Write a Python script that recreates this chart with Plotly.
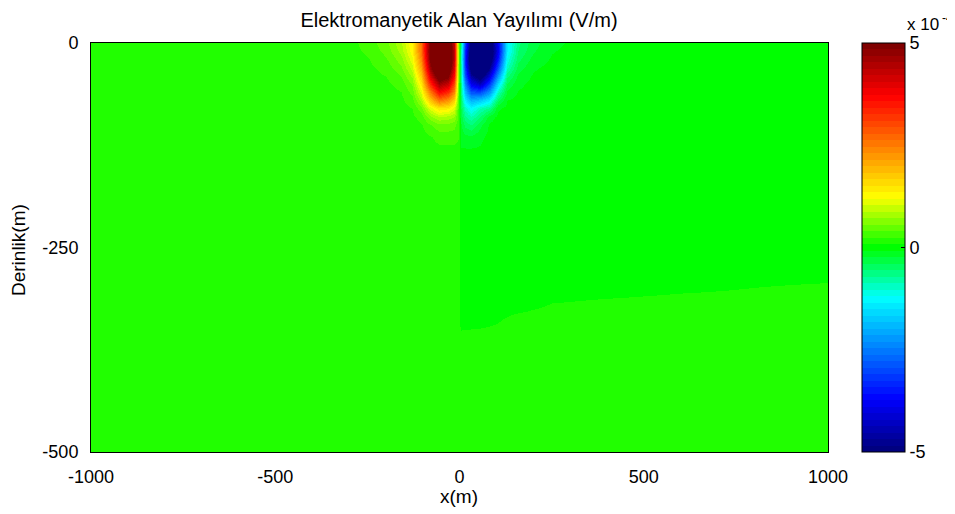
import plotly.graph_objects as go

# ---------------- data (field values in units of 1e-4 V/m) ----------------
X_M = [-1000, -600, -400, -300, -250, -200, -160, -130, -105, -80, -55, -30, -15, -3,
       3, 15, 30, 55, 80, 105, 130, 160, 200, 250, 300, 400, 600, 1000]

DEPTH_M = [0, -10, -20, -30, -40, -50, -60, -70, -80, -90, -100, -115, -130, -160,
           -200, -280, -300, -320, -340, -360, -400, -500]

FIELD_E4 = [
    [0.15, 0.15, 0.15, 0.18, 0.30, 0.50, 0.85, 1.35, 2.6, 5.0, 6.0, 5.5, 4.2, 0.8, -0.8, -3.0, -5.3, -6.5, -5.5, -3.7, -1.4, -0.6, -0.3, -0.12, -0.06, -0.02, 0, 0],
    [0.15, 0.15, 0.15, 0.17, 0.27, 0.45, 0.78, 1.30, 2.6, 5.1, 6.3, 5.8, 4.3, 0.9, -0.9, -3.3, -5.6, -6.8, -5.7, -3.8, -1.35, -0.55, -0.26, -0.09, -0.04, 0, 0, 0],
    [0.15, 0.15, 0.15, 0.16, 0.22, 0.38, 0.65, 1.15, 2.4, 5.0, 6.4, 5.9, 4.3, 0.9, -0.9, -3.4, -5.7, -6.8, -5.5, -3.5, -1.15, -0.45, -0.18, -0.06, -0.02, 0, 0, 0],
    [0.15, 0.15, 0.15, 0.15, 0.19, 0.30, 0.52, 0.95, 2.1, 4.6, 6.1, 5.6, 4.0, 0.85, -0.85, -3.2, -5.3, -6.2, -4.9, -2.9, -0.9, -0.32, -0.10, -0.03, 0, 0, 0, 0],
    [0.15, 0.15, 0.15, 0.15, 0.17, 0.24, 0.40, 0.75, 1.75, 4.0, 5.4, 5.0, 3.6, 0.8, -0.8, -2.9, -4.6, -5.3, -4.1, -2.2, -0.6, -0.2, -0.06, -0.01, 0, 0, 0, 0],
    [0.15, 0.15, 0.15, 0.15, 0.16, 0.20, 0.30, 0.58, 1.4, 3.3, 4.6, 4.2, 3.0, 0.7, -0.7, -2.4, -3.8, -4.3, -3.2, -1.5, -0.37, -0.12, -0.03, 0, 0, 0, 0, 0],
    [0.15, 0.15, 0.15, 0.15, 0.15, 0.18, 0.235, 0.45, 1.1, 2.5, 3.7, 3.3, 2.4, 0.6, -0.6, -1.9, -2.9, -3.0, -2.3, -0.9, -0.2, -0.07, -0.01, 0, 0, 0, 0, 0],
    [0.15, 0.15, 0.15, 0.15, 0.15, 0.16, 0.20, 0.34, 0.8, 1.8, 2.6, 2.3, 1.7, 0.5, -0.5, -1.4, -2.0, -1.8, -1.4, -0.45, -0.08, -0.04, 0, 0, 0, 0, 0, 0],
    [0.15, 0.15, 0.15, 0.15, 0.15, 0.15, 0.18, 0.24, 0.5, 1.1, 1.5, 1.4, 1.1, 0.4, -0.4, -0.95, -1.3, -0.9, -0.7, -0.1, -0.04, -0.02, 0, 0, 0, 0, 0, 0],
    [0.15, 0.15, 0.15, 0.15, 0.15, 0.15, 0.16, 0.20, 0.3, 0.65, 0.85, 0.8, 0.7, 0.35, -0.3, -0.65, -0.85, -0.55, -0.15, -0.04, -0.02, -0.01, 0, 0, 0, 0, 0, 0],
    [0.15, 0.15, 0.15, 0.15, 0.15, 0.15, 0.15, 0.17, 0.22, 0.38, 0.5, 0.5, 0.45, 0.3, -0.22, -0.45, -0.55, -0.28, -0.06, -0.02, -0.01, 0, 0, 0, 0, 0, 0, 0],
    [0.15, 0.15, 0.15, 0.15, 0.15, 0.15, 0.15, 0.15, 0.17, 0.22, 0.3, 0.3, 0.3, 0.25, -0.15, -0.18, -0.2, -0.12, -0.03, -0.01, 0, 0, 0, 0, 0, 0, 0, 0],
    [0.15, 0.15, 0.15, 0.15, 0.15, 0.15, 0.15, 0.15, 0.15, 0.17, 0.2, 0.2, 0.2, 0.2, -0.07, -0.07, -0.07, -0.06, -0.01, 0, 0, 0, 0, 0, 0, 0, 0, 0],
    [0.15, 0.15, 0.15, 0.15, 0.15, 0.15, 0.15, 0.15, 0.15, 0.15, 0.15, 0.15, 0.15, 0.15, -0.03, -0.03, -0.03, -0.03, 0, 0, 0, 0, 0, 0, 0, 0, 0, 0],
    [0.15, 0.15, 0.15, 0.15, 0.15, 0.15, 0.15, 0.15, 0.15, 0.15, 0.15, 0.15, 0.15, 0.15, 0, 0, 0, -0.01, 0, 0, 0, 0, 0, 0, 0, 0, 0, 0],
    [0.15, 0.15, 0.15, 0.15, 0.15, 0.15, 0.15, 0.15, 0.15, 0.15, 0.15, 0.15, 0.15, 0.15, 0, 0, 0, 0, 0, 0, 0, 0, 0, 0, 0, 0, 0, 0],
    [0.15, 0.15, 0.15, 0.15, 0.15, 0.15, 0.15, 0.15, 0.15, 0.15, 0.15, 0.15, 0.15, 0.15, 0, 0, 0, 0, 0, 0, 0, 0, 0, 0, 0, 0, 0.045, 0.12],
    [0.15, 0.15, 0.15, 0.15, 0.15, 0.15, 0.15, 0.15, 0.15, 0.15, 0.15, 0.15, 0.15, 0.15, 0, 0, 0, 0, 0, 0, 0, 0, 0.05, 0.09, 0.10, 0.13, 0.16, 0.15],
    [0.15, 0.15, 0.15, 0.15, 0.15, 0.15, 0.15, 0.15, 0.15, 0.15, 0.15, 0.15, 0.15, 0.15, 0, 0, 0, 0.015, 0.04, 0.07, 0.11, 0.16, 0.16, 0.15, 0.15, 0.15, 0.15, 0.15],
    [0.15, 0.15, 0.15, 0.15, 0.15, 0.15, 0.15, 0.15, 0.15, 0.15, 0.15, 0.15, 0.15, 0.15, 0.14, 0.15, 0.16, 0.16, 0.16, 0.16, 0.15, 0.15, 0.15, 0.15, 0.15, 0.15, 0.15, 0.15],
    [0.15, 0.15, 0.15, 0.15, 0.15, 0.15, 0.15, 0.15, 0.15, 0.15, 0.15, 0.15, 0.15, 0.15, 0.15, 0.15, 0.15, 0.15, 0.15, 0.15, 0.15, 0.15, 0.15, 0.15, 0.15, 0.15, 0.15, 0.15],
    [0.15, 0.15, 0.15, 0.15, 0.15, 0.15, 0.15, 0.15, 0.15, 0.15, 0.15, 0.15, 0.15, 0.15, 0.15, 0.15, 0.15, 0.15, 0.15, 0.15, 0.15, 0.15, 0.15, 0.15, 0.15, 0.15, 0.15, 0.15],
]

X_TICKS = [-1000, -500, 0, 500, 1000]
Y_TICKS = [0, -250, -500]
CB_TICKS = [-5, 0, 5]
CB_TICKTEXT = ["-5", "0", "5"]

TITLE = "Elektromanyetik Alan Yayılımı (V/m)"
X_TITLE = "x(m)"
Y_TITLE = "Derinlik(m)"

# ---------------- colour map (jet-like, 63 discrete levels) ----------------
anchors_t = [0.0, 0.125, 0.375, 0.5, 0.625, 0.875, 1.0]
anchors_c = [(0, 0, 128), (0, 0, 255), (0, 255, 255), (0, 255, 0),
             (255, 255, 0), (255, 0, 0), (128, 0, 0)]


def cmap(t):
    for i in range(len(anchors_t) - 1):
        t0, t1 = anchors_t[i], anchors_t[i + 1]
        if t0 <= t <= t1:
            f = (t - t0) / (t1 - t0)
            c0, c1 = anchors_c[i], anchors_c[i + 1]
            return tuple(round(c0[j] + f * (c1[j] - c0[j])) for j in range(3))
    return anchors_c[-1]


N = 63
colorscale = []
for k in range(N):
    r, g, b = cmap(k / (N - 1))
    col = f"rgb({r},{g},{b})"
    colorscale.append([k / N, col])
    colorscale.append([(k + 1) / N, col])

FONT = "Liberation Sans, Arial, sans-serif"
TICK_SIZE = 18

# page offset (browser body margin) and target window size
OFF = 8
W, H = 955 - OFF, 514 - OFF
# plot area in screen pixels: x 91..828, y 43..452
PL, PR, PT, PB = 91 - OFF, 828 - OFF, 43 - OFF, 452 - OFF
PW, PH = PR - PL, PB - PT


def px(xs):
    return (xs - OFF - PL) / PW


def py(ys):
    return (PB - (ys - OFF)) / PH


fig = go.Figure(
    go.Heatmap(
        x=X_M,
        y=DEPTH_M,
        z=FIELD_E4,
        zmin=-5,
        zmax=5,
        zsmooth="best",
        colorscale=colorscale,
        colorbar=dict(
            thickness=43,
            thicknessmode="pixels",
            len=1,
            lenmode="fraction",
            x=px(862),
            xanchor="left",
            y=0.5,
            yanchor="middle",
            xpad=0,
            ypad=0,
            outlinewidth=1,
            outlinecolor="black",
            tickvals=CB_TICKS,
            ticktext=CB_TICKTEXT,
            ticks="inside",
            ticklen=4,
            tickcolor="black",
            tickfont=dict(family=FONT, size=TICK_SIZE, color="black"),
        ),
    )
)

fig.update_layout(
    width=W,
    height=H,
    autosize=False,
    margin=dict(l=PL, r=W - PR, t=PT, b=H - PB, autoexpand=False),
    paper_bgcolor="white",
    plot_bgcolor="white",
    font=dict(family=FONT, size=TICK_SIZE, color="black"),
    title=dict(text=TITLE, x=px(459), xref="paper", xanchor="center",
               y=1 - (20 - OFF) / H, yref="container", yanchor="middle",
               font=dict(family=FONT, size=20, color="black")),
    xaxis=dict(
        range=[-1000, 1000],
        tickvals=X_TICKS,
        ticktext=[str(v) for v in X_TICKS],
        ticks="",
        ticklabelstandoff=8,
        tickfont=dict(family=FONT, size=TICK_SIZE, color="black"),
        showline=True, mirror=True, linecolor="black", linewidth=1,
        showgrid=False, zeroline=False, automargin=False,
    ),
    yaxis=dict(
        range=[-500, 0],
        tickvals=Y_TICKS,
        ticktext=[str(v) for v in Y_TICKS],
        ticks="",
        ticklabelstandoff=8,
        tickfont=dict(family=FONT, size=TICK_SIZE, color="black"),
        showline=True, mirror=True, linecolor="black", linewidth=1,
        showgrid=False, zeroline=False, automargin=False,
    ),
    annotations=[
        dict(text=X_TITLE, xref="paper", yref="paper",
             x=px(459), y=py(497), xanchor="center", yanchor="middle",
             showarrow=False, font=dict(family=FONT, size=19, color="black")),
        dict(text=Y_TITLE, xref="paper", yref="paper", textangle=-90,
             x=px(18), y=py(250), xanchor="center", yanchor="middle",
             showarrow=False, font=dict(family=FONT, size=19, color="black")),
        dict(text="x 10", xref="paper", yref="paper",
             x=px(940), y=py(25), xanchor="right", yanchor="middle",
             showarrow=False, borderpad=0,
             font=dict(family=FONT, size=17, color="black")),
        dict(text="-4", xref="paper", yref="paper",
             x=px(954), y=py(18), xanchor="right", yanchor="middle",
             showarrow=False, borderpad=0,
             font=dict(family=FONT, size=12, color="black")),
    ],
)

fig.write_html("out.html")
